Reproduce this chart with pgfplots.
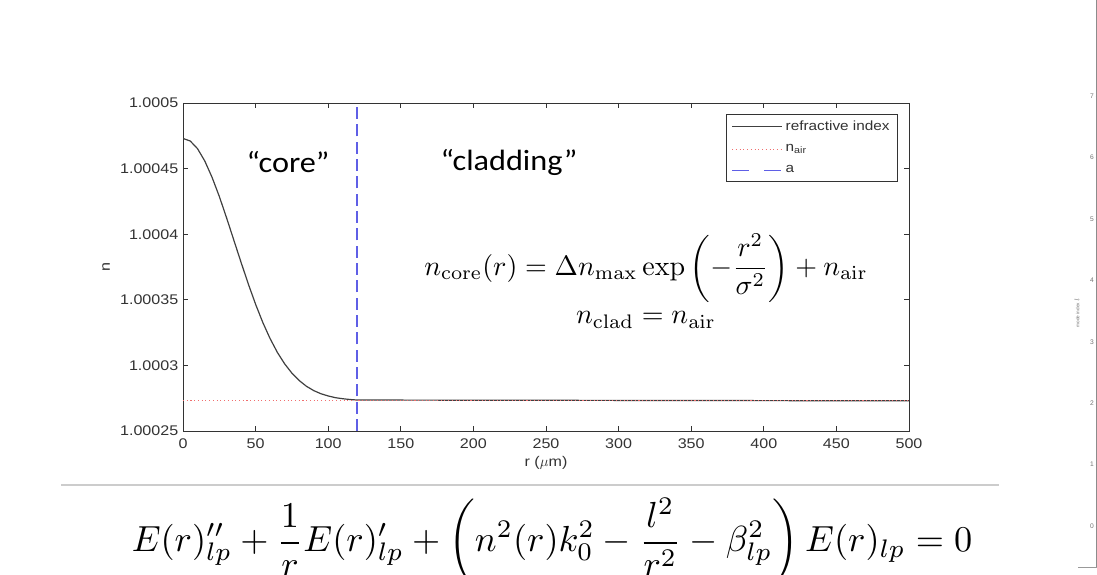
\documentclass[border=0pt]{standalone}
\usepackage{pgfplots}
\pgfplotsset{compat=1.18}
\usepackage[no-math]{fontspec}
\usepackage{graphicx}
\setmainfont{Liberation Sans}
\newfontfamily\mfont{Liberation Sans}[FakeStretch=1.15]
\newfontfamily\cfont{Carlito}[FakeStretch=1.1]
\definecolor{axgray}{gray}{0.2}
\definecolor{nairred}{RGB}{240,110,110}
\definecolor{ablue}{RGB}{95,95,230}
\begin{document}
\begin{tikzpicture}
\useasboundingbox (0,0) rectangle (822.75pt,431.25pt);
\begin{axis}[
  at={(137.25pt,108pt)}, anchor=south west,
  scale only axis, width=544.5pt, height=246pt,
  xmin=0, xmax=500, ymin=25, ymax=50,
  xtick={0,50,...,500},
  ytick={25,30,35,40,45,50},
  yticklabels={1.00025,1.0003,1.00035,1.0004,1.00045,1.0005},
  tick align=inside, major tick length=3.75pt,
  axis line style={axgray, line width=0.6pt},
  tick style={axgray, line width=0.6pt},
  ticklabel style={font=\mfont\fontsize{10.5}{12}\selectfont, text=axgray},
  xticklabel style={yshift=-2pt},
  /pgf/number format/assume math mode=true,
  xlabel={r ($\mu$m)}, ylabel={n},
  label style={font=\mfont\fontsize{10.5}{12}\selectfont, text=axgray},
  xlabel style={at={(axis description cs:0.5,-0.0976)}, anchor=center},
  ylabel style={at={(axis description cs:-0.106,0.5)}, anchor=center},
  legend style={at={(axis description cs:0.9848,0.9665)}, anchor=north east,
    draw=axgray, line width=0.5pt, font=\mfont\fontsize{10}{12}\selectfont,
    inner xsep=4pt, inner ysep=3pt, row sep=5pt},
  legend cell align=left,
  legend image code/.code={\draw[#1] (0pt,0pt) -- (37.5pt,0pt);},
]
\addplot[black!75, line width=0.9pt] coordinates {
(0,47.30) (5,47.10) (10,46.52) (15,45.58) (20,44.34) (25,42.88) (30,41.25)
(35,39.55) (40,37.85) (45,36.20) (50,34.66) (55,33.26) (60,32.04) (65,30.99)
(70,30.12) (75,29.41) (80,28.85) (85,28.41) (90,28.08) (95,27.84) (100,27.67)
(105,27.54) (110,27.46) (115,27.40) (120,27.36) (500,27.30)};
\addlegendentry{\textcolor{axgray}{refractive index}}
\addplot[color=nairred, dotted, line width=0.8pt] coordinates {(0,27.3) (500,27.3)};
\addlegendentry{\textcolor{axgray}{n\textsubscript{air}}}
\addplot[color=ablue, solid, dash pattern=on 9pt off 4pt, line width=1.2pt,
  legend image post style={dash pattern=on 12.75pt off 11.25pt}] coordinates {(120,25) (120,50)};
\addlegendentry{\textcolor{axgray}{a}}
\end{axis}

\node[font=\cfont\fontsize{22}{26}\selectfont] at (216pt,309.75pt) {“core”};
\node[font=\cfont\fontsize{22}{26}\selectfont] at (381.75pt,309.75pt) {“cladding”};
\node at (484.5pt,230.25pt) {\scalebox{2.1}{$\displaystyle n_{\mathrm{core}}(r) = \Delta n_{\max}\exp\left(-\frac{r^2}{\sigma^2}\right) + n_{\mathrm{air}}$}};
\node at (484.5pt,191.25pt) {\scalebox{2.1}{$n_{\mathrm{clad}} = n_{\mathrm{air}}$}};

\draw[black!20, line width=1.5pt] (45.75pt,67.5pt) -- (749.25pt,67.5pt);
\node[anchor=base] at (414pt,17.25pt) {\scalebox{2.72}{$\displaystyle E(r)''_{lp}+\frac{1}{r}E(r)'_{lp}+\left(n^2(r)k_0^2-\frac{l^2}{r^2}-\beta_{lp}^2\right)E(r)_{lp}=0$}};

\begin{axis}[
  at={(822.4pt,6pt)}, anchor=south west,
  scale only axis, width=20pt, height=445.4pt,
  xmin=0, xmax=1, ymin=-0.667, ymax=9,
  axis x line=none, axis y line=left,
  axis line style={-, black!45, line width=0.5pt},
  ytick={0,1,2,3,4,5,6,7}, major tick length=1.5pt,
  tick style={black!45},
  yticklabel style={font=\fontsize{5}{6}\selectfont, text=black!55, inner sep=1pt},
  /pgf/number format/assume math mode=true,
  ylabel={mode index $l$},
  ylabel style={at={(axis description cs:-0.73,0.428)}, anchor=center, font=\fontsize{3.5}{4}\selectfont, text=black!55},
]
\addplot[draw=none] coordinates {(0,0) (1,7)};
\end{axis}
\draw[black!40, line width=0.5pt] (808.5pt,6pt) -- (822.75pt,6pt);
\end{tikzpicture}
\end{document}
